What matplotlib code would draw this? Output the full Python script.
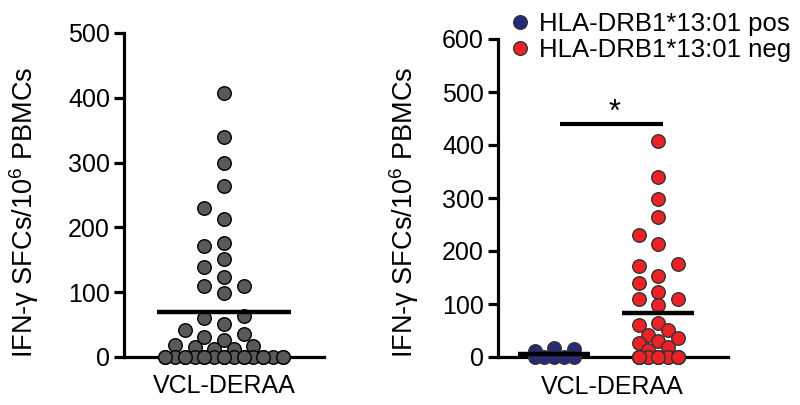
import numpy as np
import matplotlib
matplotlib.use("Agg")
import matplotlib.pyplot as plt
from matplotlib.lines import Line2D

plt.rcParams['font.family'] = ['Liberation Sans', 'DejaVu Sans']
plt.rcParams['mathtext.fontset'] = 'custom'
plt.rcParams['mathtext.rm'] = 'Liberation Sans'

# values (IFN-g SFCs per 10^6 PBMCs)
pos_vals = [17, 15, 12, 0, 0, 0, 0, 0]
neg_vals = [407, 339, 299, 264, 230, 213, 176, 171, 152, 139, 123, 109, 109, 98,
            64, 60, 51, 42, 35, 31, 27, 19, 13] + [0] * 15
all_vals = pos_vals + neg_vals
category = "VCL-DERAA"
legend_labels = ["HLA-DRB1*13:01 pos", "HLA-DRB1*13:01 neg"]

grey = "#595959"
blue = "#262a78"
red = "#ec2227"
ylab = r"IFN-γ SFCs/10$^{\mathregular{6}}$ PBMCs"

fig = plt.figure(figsize=(8, 4.05), dpi=100)
ax1 = fig.add_axes([124 / 800, 48 / 405, 200 / 800, 324 / 405])
ax2 = fig.add_axes([498 / 800, 48 / 405, 230 / 800, 318 / 405])


def swarm(ax, xc, vals, diam, step, max_half):
    # simple beeswarm placement done in pixel space
    vals = np.asarray(vals, float)
    pix = ax.transData.transform(np.column_stack([np.full(len(vals), xc), vals]))
    x0 = pix[0, 0]
    ypx = pix[:, 1]
    n = int(max_half // step + 1e-9)
    cands = [0.0]
    for k in range(1, n + 1):
        cands += [-k * step, k * step]
    for k in range(n + 1):
        h = (k + 0.5) * step
        if h <= max_half + 1:
            cands += [-h, h]
    placed = []
    offs = np.zeros(len(vals))
    for i in np.argsort(vals, kind="stable"):
        best, best_ov = 0.0, np.inf
        for c in cands:
            ov = 0.0
            for (px, py) in placed:
                d = np.hypot(px - c, py - ypx[i])
                if d < diam:
                    ov += diam - d
            if ov < best_ov - 1e-9:
                best, best_ov = c, ov
            if ov == 0:
                break
        offs[i] = best
        placed.append((best, ypx[i]))
    xs = ax.transData.inverted().transform(np.column_stack([x0 + offs, ypx]))[:, 0]
    return xs


for ax in (ax1, ax2):
    for s in ("top", "right"):
        ax.spines[s].set_visible(False)
    for s in ("left", "bottom"):
        ax.spines[s].set_linewidth(2.3)
        ax.spines[s].set_capstyle("projecting")
    ax.tick_params(axis="y", length=7, width=2.3, labelsize=18, pad=3)
    ax.tick_params(axis="x", labelsize=18)

# left panel: all donors
ax1.set_xlim(-1, 1)
ax1.set_ylim(0, 500)
ax1.set_yticks(range(0, 501, 100))
ax1.set_xticks([0])
ax1.set_xticklabels([category])
ax1.tick_params(axis="x", length=5, width=2.3, pad=7)
xs = swarm(ax1, 0, all_vals, 13.0, 19.5, 59)
ax1.scatter(xs, all_vals, s=95, c=grey, edgecolors="black", linewidths=1.0,
            zorder=3, clip_on=False)
ax1.plot([-0.67, 0.67], [np.mean(all_vals)] * 2, color="black", lw=3.2,
         solid_capstyle="butt", zorder=4)
ax1.set_ylabel(ylab, fontsize=19.5)
ax1.yaxis.set_label_coords(-0.415, 0.447)

# right panel: split by HLA-DRB1*13:01
ax2.set_xlim(0.4615, 2.673)
ax2.set_ylim(0, 600)
ax2.set_yticks(range(0, 601, 100))
ax2.set_xticks([1.56])
ax2.set_xticklabels([category])
ax2.tick_params(axis="x", length=0, pad=13)
for xc, vals, col in ((1, pos_vals, blue), (2, neg_vals, red)):
    xs = swarm(ax2, xc, vals, 13.0, 19.5, 20)
    ax2.scatter(xs, vals, s=95, c=col, edgecolors="#333333", linewidths=1.0,
                zorder=3, clip_on=False)
    ax2.plot([xc - 0.346, xc + 0.346], [np.mean(vals)] * 2, color="black", lw=3.2,
             solid_capstyle="butt", zorder=4)
ax2.plot([1.06, 2.05], [440, 440], color="black", lw=3.0, solid_capstyle="butt")
ax2.text(1.58, 432, "*", ha="center", va="bottom", fontsize=22)
ax2.set_ylabel(ylab, fontsize=19.5)
ax2.yaxis.set_label_coords(-0.335, 0.456)

handles = [Line2D([], [], ls="", marker="o", ms=9.8, mfc=blue, mec="#333333", mew=1.0),
           Line2D([], [], ls="", marker="o", ms=9.8, mfc=red, mec="#333333", mew=1.0)]
fig.legend(handles, legend_labels, loc="upper left", bbox_to_anchor=(507 / 800, 1 - 12 / 405),
           frameon=False, fontsize=18.5, handlelength=1.0, handletextpad=0.25,
           labelspacing=0.08, borderpad=0.0, borderaxespad=0)

fig.savefig("out.png", dpi=100)
